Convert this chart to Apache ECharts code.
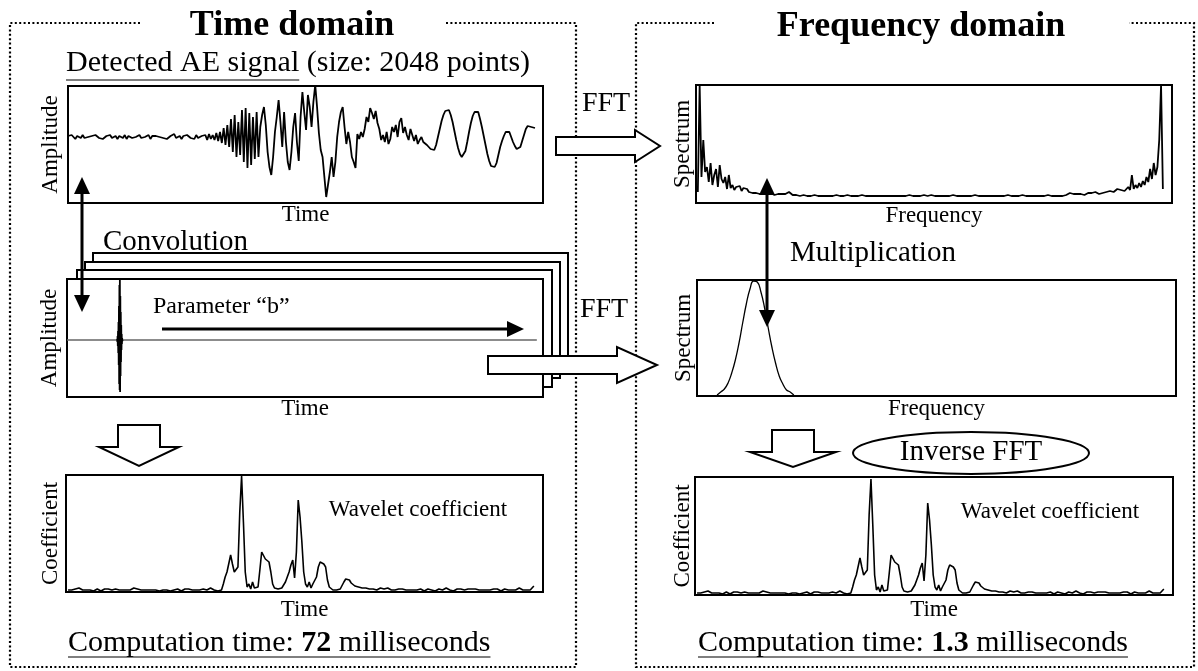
<!DOCTYPE html>
<html>
<head>
<meta charset="utf-8">
<script src="https://cdn.jsdelivr.net/npm/echarts@6/dist/echarts.min.js"></script>
<style>
html,body{margin:0;padding:0;background:#fff;}
#chart{width:1198px;height:671px;}
</style>
</head>
<body>
<div id="chart"></div>
<script>
// Every series below is sampled every 8 points of the 2048-point record.
const SAMPLE_STEP = 8;

// Detected AE signal (amplitude, arbitrary units)
const aeAmplitude = [
  1,-1,2,0,-2,1,0,-1,2,-1, 1,0,-2,1,-1,2,0,-1,1,-2, 0,1,-1,2,-1,0,1,-2,1,0,
  -1,2,-2,1,0,-1,1,0,-2,2, -1,1,0,-1,2,-2,1,0,1,-1, 0,2,-1,1,-2,0,1,-1,3,-1,
  0,1,-2,1,-1,2,0,-1,1,-2, 2,-1,0,1,-1,2,-3,3,-2,2, -3,4,-4,
  5,-6,9,-8,12,-10,18,-15,22,-20,15,-18,27,-25,29,-31,24,-28,20,-22,25,-20,
  10,22,30,12,-15,-30,-38,-20,5,20,37,15,-10,25,-5,-25,-33,-15,10,24,-5,-24,
  20,45,25,7,42,30,10,35,52,30,4,-13,-20,-40,-60,
  -60,-35,-20,-40,-25,0,15,25,30,10,-7,5,-5,-20,-25,-31,3,-2,5,0,8,20,15,29,
  24,18,26,14,8,-3,2,-5,5,-7,-2,10,5,12,0,15,19,
  4,10,2,-3,8,7,-4,2,-7,-3,0,-5,-3,-8,-10,-12,-13,
  -13,-8,0,8,16,22,26,25,27,22, 15,6,-3,-11,-17,-20,-20,-14,-5,5,
  14,21,25,24,25,18,10,1,-8,-17, -24,-29,-31,-30,-26,-18,-10,-4,1,5,
  4,5,0,-5,-9,-12,-13,-10,-4,2, 8,11,12,10,11,9
];

// FFT magnitude spectrum of the AE signal
const aeSpectrum = [
  5,112,20,57,25,
  30,15,34,12,22,28,10,32,18,14,20,8,
  22,9,12,7,10,8,11,6,9,7,8,5,
  6,4,5,4,6,3,5,4,3,5,3,4,3,2,4,3,2,3,2,3,4,5,3,2,1,2,1,
  1,1,2,1,1,1,1,1,2,1, 1,1,1,2,1,1,1,1,1,1, 2,1,1,1,1,1,2,1,1,1,
  1,1,1,1,2,1,1,1,1,1, 1,2,1,1,1,1,1,2,1,1, 1,1,1,1,1,2,1,1,1,1,
  2,1,1,1,1,1,1,1,2,1, 1,1,2,1,1,1,1,1,1,1, 1,1,1,1,2,1,1,1,1,2,
  1,1,1,1,1,1,2,1,1,1, 1,2,1,1,1,1,1,1,1,2, 1,1,1,1,2,1,1,1,1,1,
  1,1,2,1,1,1,1,2,1,1, 1,1,1,1,1,1,2,1,1,1, 1,2,1,1,1,2,
  2,3,4,4,3,2,3,2,3,
  3,2,3,4,3,4,3,5,4,3,5,4,6,5,4,6,7,5,6,8,6,7,9,6,8,10,7,
  22,8,12,9,14,10,16,12,20,15,28,18,34,22,30,57,
  112,8
];

// Mother wavelet placed at the start of the record (sample index, amplitude)
const waveletTime = [219,220,221,222,223,224,225,226,227,228,229,230,231,232,233,234,235,236,237,238,239,240,241,242,243];
const waveletAmp  = [1,-2,4,-6,9,-13,18,-25,34,-44,55,-50,60,-52,44,-36,28,-22,15,-10,6,-4,2,-1,0];
const zeroLineTime = [0, 2053];

// Wavelet spectrum (frequency bin, magnitude)
const gaussFreq = [80,96,112,128,144,160,176,192,208,224,240,256,272,288,304,320,336,352,368,384,400,416];
const gaussAmp  = [0,3,6,12,22,35,52,72,91,106,114,113,103,87,67,48,32,19,11,5,3,0];

// Wavelet coefficient (same result from both routes)
const waveletCoef = [
  2,3,2,1,3,2,4,3,2,1, 2,3,2,3,1,2,3,2,1,2, 3,4,3,2,2,1,3,2,2,3,
  2,1,2,3,2,2,4,4,3,2, 2,1,2,3,2,1,2,3,2,2, 1,3,2,3,2,2,1,3,2,2,
  3,2,1,2,3,2,3,4,2,1, 2,3,2,2,3,1,2,3,4,3, 2,3,1,2,2,
  8,15,20,22,37,28,20,22,
  25,80,116,70,20,5,
  8,3,10,4,6,5,
  22,40,38,33,32,30,20,8,4,
  2,3,2,4,6,10,
  15,20,27,32,14,40,92,75,50,20,8,
  5,10,4,8,
  6,15,25,30,29,28,25,12,5,3,
  2,3,2,1,3,5,
  10,13,15,12,9,8,6,7,5,6,4,6,4,5,3,4,3,5,2,3,4,2,
  3,2,4,3,2,3,2,1,3,4, 3,2,2,3,2,1,2,3,2,2, 3,2,1,2,3,3,2,2,1,2,
  3,2,2,3,4,3,2,2,1,2, 3,2,3,2,2,1,3,2,3,4, 3,2,2,3,2,1,2,3,2,2,
  3,4,3,2,1,2,3,2,2,3, 2,1,2,3,4,3,2,3,2,1, 2,3,6
];

const SERIF = '"Liberation Serif", "Times New Roman", serif';
const toPairs = (arr) => arr.map((v, i) => [i * SAMPLE_STEP, v]);
const zip = (xs, ys) => xs.map((x, i) => [x, ys[i]]);

function measure(text, font) {
  const ctx = document.createElement('canvas').getContext('2d');
  ctx.font = font;
  return ctx.measureText(text).width;
}

const grids = [
  { left: 68,  top: 86,  width: 475, height: 117 }, // AE signal
  { left: 696, top: 85,  width: 476, height: 118 }, // spectrum
  { left: 67,  top: 279, width: 476, height: 118 }, // wavelet / convolution
  { left: 697, top: 280, width: 479, height: 116 }, // wavelet spectrum
  { left: 66,  top: 475, width: 477, height: 117 }, // coefficient (time)
  { left: 695, top: 477, width: 478, height: 118 }  // coefficient (frequency)
].map((g) => Object.assign({
  show: true, borderColor: '#000', borderWidth: 2, backgroundColor: '#fff', z: 1
}, g));

const nameStyle = { fontFamily: SERIF, fontSize: 23, color: '#000' };
const axisCfg = [
  // [xmin, xmax, ymin, ymax, xName, yName, xGap, yGap]
  [0, 2075, -66, 51, 'Time', 'Amplitude', 0, 6],
  [-8, 2080, -6, 112, 'Frequency', 'Spectrum', 1, 2],
  [0, 2080, -57, 61, 'Time', 'Amplitude', 0, 6],
  [-8, 2090, -1, 115, 'Frequency', 'Spectrum', 1, 2],
  [-9, 2080, 0, 117, 'Time', 'Coefficient', 6, 4],
  [-9, 2080, 0, 118, 'Time', 'Coefficient', 3, 1]
];
const hidden = {
  axisLine: { show: false }, axisTick: { show: false },
  axisLabel: { show: false }, splitLine: { show: false }
};
const xAxes = axisCfg.map((a, i) => Object.assign({
  gridIndex: i, type: 'value', min: a[0], max: a[1],
  name: a[4], nameLocation: 'middle', nameGap: a[6], nameTextStyle: nameStyle
}, hidden));
const yAxes = axisCfg.map((a, i) => Object.assign({
  gridIndex: i, type: 'value', min: a[2], max: a[3],
  name: a[5], nameLocation: 'middle', nameGap: a[7], nameTextStyle: nameStyle
}, hidden));

function line(idx, data, width, extra) {
  return Object.assign({
    type: 'line', xAxisIndex: idx, yAxisIndex: idx, data: data,
    symbol: 'none', silent: true, z: 3,
    lineStyle: { color: '#000', width: width }
  }, extra || {});
}

const series = [
  line(0, toPairs(aeAmplitude), 1.8),
  line(1, toPairs(aeSpectrum), 1.8),
  line(2, zeroLineTime.map(t => [t, 0]), 1.3, { lineStyle: { color: '#666', width: 1.3 } }),
  line(2, zip(waveletTime, waveletAmp), 1.8),
  line(3, zip(gaussFreq, gaussAmp), 1.3, { smooth: true }),
  line(4, toPairs(waveletCoef), 1.6),
  line(5, toPairs(waveletCoef), 1.6)
];

// ---------- annotation shapes ----------
const black = '#000';
const dotted = { stroke: black, lineWidth: 2.2, lineDash: [2, 2.4], fill: null };

function polyline(points, style, z) {
  return { type: 'polyline', shape: { points: points }, style: style, z: z || 5, silent: true };
}
function blockArrow(points) {
  return { type: 'polygon', shape: { points: points },
           style: { fill: '#fff', stroke: black, lineWidth: 2 }, z: 20, silent: true };
}
function head(tip, dir, len, half) {
  // solid triangular arrow head; dir is 'up', 'down' or 'right'
  const [x, y] = tip;
  let pts;
  if (dir === 'up') pts = [[x, y], [x - half, y + len], [x + half, y + len]];
  else if (dir === 'down') pts = [[x, y], [x - half, y - len], [x + half, y - len]];
  else pts = [[x, y], [x - len, y - half], [x - len, y + half]];
  return { type: 'polygon', shape: { points: pts }, style: { fill: black }, z: 31, silent: true };
}
function seg(x1, y1, x2, y2, w, z) {
  return { type: 'line', shape: { x1, y1, x2, y2 },
           style: { stroke: black, lineWidth: w }, z: z || 30, silent: true };
}
function label(text, x, y, size, opts) {
  return Object.assign({
    type: 'text', x: x, y: y, z: 40, silent: true,
    style: Object.assign({
      text: text, fill: black, font: size + 'px ' + SERIF,
      align: 'center', verticalAlign: 'middle'
    }, (opts && opts.style) || {})
  }, (opts && opts.el) || {});
}
function frame(x, y, w, h, z) {
  return { type: 'rect', shape: { x, y, width: w, height: h },
           style: { fill: '#fff', stroke: black, lineWidth: 2 }, z: z, silent: true };
}

const BIG = 29;
const HEAD = 30;
const detectedFont = HEAD + 'px ' + SERIF;
const detectedWidth = measure('Detected AE signal', detectedFont);

function compTimeText(x, value) {
  const plain = HEAD + 'px ' + SERIF;
  const bold = 'bold ' + HEAD + 'px ' + SERIF;
  const w = measure('Computation time: ', plain) + measure(value, bold) + measure(' milliseconds', plain);
  return [
    { type: 'text', x: x, y: 643, z: 40, silent: true,
      style: { text: '{a|Computation time: }{b|' + value + '}{a| milliseconds}',
               fill: black, align: 'left', verticalAlign: 'middle',
               rich: { a: { fontFamily: SERIF, fontSize: HEAD, fill: black },
                       b: { fontFamily: SERIF, fontSize: HEAD, fontWeight: 'bold', fill: black } } } },
    seg(x, 657, x + w, 657, 1.2, 40)
  ];
}

const graphics = [
  // dotted domain boxes
  polyline([[140, 23], [10, 23], [10, 667], [576, 667], [576, 23], [446, 23]], dotted, 5),
  polyline([[714, 23], [636, 23], [636, 667], [1194, 667], [1194, 23], [1129, 23]], dotted, 5),
  label('Time domain', 292, 26, 36, { style: { font: 'bold 36px ' + SERIF } }),
  label('Frequency domain', 921, 27, 36, { style: { font: 'bold 36px ' + SERIF } }),

  // stacked copies of the shifted wavelet
  frame(93, 253, 475, 117, -3),
  frame(85, 262, 475, 116, -2),
  frame(77, 270, 475, 117, -1),

  // signal heading
  label('Detected AE signal (size: 2048 points)', 66, 63, HEAD, { style: { align: 'left', font: detectedFont } }),
  seg(66, 80, 66 + detectedWidth, 80, 1.2, 40),

  // FFT arrows
  blockArrow([[556, 137], [635, 137], [635, 130], [660, 146], [635, 162], [635, 155], [556, 155]]),
  label('FFT', 606, 104, 28),
  blockArrow([[488, 356], [617, 356], [617, 347], [657, 365], [617, 383], [617, 374], [488, 374]]),
  label('FFT', 604, 310, 28),

  // convolution double arrow
  seg(82, 190, 82, 299, 3),
  head([82, 177], 'up', 17, 8),
  head([82, 312], 'down', 17, 8),
  label('Convolution', 103, 242, BIG, { style: { align: 'left' } }),

  // parameter b arrow
  seg(162, 329, 508, 329, 3),
  head([524, 329], 'right', 17, 8),
  label('Parameter \u201cb\u201d', 153, 307, 24, { style: { align: 'left' } }),

  // multiplication double arrow
  seg(767, 191, 767, 314, 3),
  head([767, 178], 'up', 17, 8),
  head([767, 327], 'down', 17, 8),
  label('Multiplication', 790, 253, BIG, { style: { align: 'left' } }),

  // downward block arrows
  blockArrow([[118, 425], [160, 425], [160, 447], [179, 447], [139, 466], [99, 447], [118, 447]]),
  blockArrow([[772, 430], [814, 430], [814, 452], [836, 452], [793, 467], [750, 452], [772, 452]]),

  // inverse FFT ellipse
  { type: 'ellipse', shape: { cx: 971, cy: 453, rx: 118, ry: 21 },
    style: { fill: '#fff', stroke: black, lineWidth: 2 }, z: 20, silent: true },
  label('Inverse FFT', 971, 452, BIG),

  // in-plot captions
  label('Wavelet coefficient', 418, 510, 23),
  label('Wavelet coefficient', 1050, 512, 23)
].concat(compTimeText(68, '72'), compTimeText(698, '1.3'));

const chart = echarts.init(document.getElementById('chart'), null, { renderer: 'canvas' });
chart.setOption({
  animation: false,
  backgroundColor: '#fff',
  grid: grids,
  xAxis: xAxes,
  yAxis: yAxes,
  series: series,
  graphic: { elements: graphics }
});
</script>
</body>
</html>
